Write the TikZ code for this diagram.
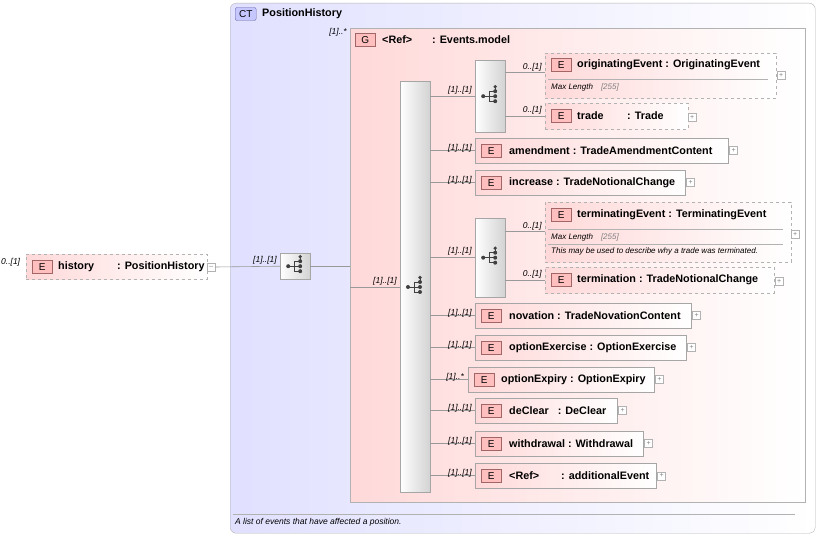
\documentclass[tikz,border=0pt]{standalone}
\usepackage{fontspec}
\setmainfont{Liberation Sans}
\begin{document}
\begin{tikzpicture}[x=1pt,y=-1pt,
 el/.style={draw=gray!70,left color=red!15,right color=white,minimum height=25pt,inner sep=0pt},
 eld/.style={el,dashed,draw=gray!60},
 badge/.style={draw=red!40!black!60,fill=red!25,minimum width=20pt,minimum height=13pt,inner sep=0pt,font=\fontsize{10}{10}\selectfont},
 nm/.style={anchor=west,inner sep=0pt,font=\bfseries\fontsize{10.8}{12}\selectfont},
 mul/.style={inner sep=0pt,font=\itshape\fontsize{8.5}{9}\selectfont},
 sml/.style={anchor=west,inner sep=0pt,font=\itshape\fontsize{8}{9}\selectfont},
 plus/.style={draw=gray!60,fill=white,minimum size=8pt,inner sep=0pt,font=\fontsize{7}{7}\selectfont,text=gray},
 seq/.style={draw=gray!70,left color=white,right color=gray!35,inner sep=0pt,anchor=north west},
 ln/.style={draw=gray!80,line width=0.6pt}]
\useasboundingbox (0,0) rectangle (820,537);
\tikzset{icon/.pic={
  \fill[black!75] (-7,0) circle (2);
  \draw[black!75,line width=0.9pt] (-7,0)--(-1,0) (-1,-5)--(-1,5) (-1,-5)--(5,-5) (-1,0)--(5,0) (-1,5)--(5,5);
  \fill[black!75] (5,-5) circle (2) (5,0) circle (2) (5,5) circle (2) (5,-9.5) circle (1.8);
  \draw[black!75,line width=0.9pt] (5,-9.5)--(5,-5);}}
% CT box
\node[draw=gray!60,rounded corners=6pt,left color=blue!12,right color=white,minimum width=585pt,minimum height=530pt,anchor=north west,inner sep=0pt] (ct) at (230,3) {};
\node[draw=blue!40!black!60,fill=blue!22,rounded corners=2pt,minimum width=21pt,minimum height=13pt,inner sep=0pt,font=\fontsize{10}{10}\selectfont,anchor=west] (ctb) at (235,14) {CT};
\node[nm] (ctt) at (262,14) {PositionHistory};
\draw[gray!60] (233,514) -- (795,514);
\node[sml,font=\itshape\fontsize{8.5}{9}\selectfont] (ctd) at (235,522) {A list of events that have affected a position.};
% G box
\node[draw=gray!60,left color=red!15,right color=white,minimum width=455pt,minimum height=474pt,anchor=north west,inner sep=0pt] (g) at (350,28) {};
\node[mul,anchor=east] at (347,32) {[1]..*};
\node[badge,anchor=west] (gb) at (355,40) {G};
\node[nm] at (382,40) {<Ref>};
\node[nm] at (432,40) {: Events.model};
% history
\node[eld,minimum width=181pt,anchor=north west] (hist) at (26,254) {};
\node[mul,anchor=west] at (1,262) {0..[1]};
\node[badge,anchor=west] at (32,267) {E};
\node[nm] at (58,267) {history};
\node[nm] at (117,267) {: PositionHistory};
\node[plus,anchor=west] (hm) at (207,267) {--};
\node[seq,minimum width=30pt,minimum height=26pt] (s1) at (280,253) {};
\pic at (s1.center) {icon};
\draw[ln] (hm.east) -- (s1.west);
\node[mul,anchor=south east] at (277,264) {[1]..[1]};
\draw[ln] (s1.east) -- (s1.east -| g.west);
\node[seq,minimum width=30pt,minimum height=411pt] (s2) at (400,81) {};
\pic at (415,287) {icon};
\coordinate (gin) at (350,287);
\draw[ln] (gin) -- (s2.west |- gin);
\node[mul,anchor=south east] at (397,285) {[1]..[1]};
% choice 1
\node[seq,minimum width=30pt,minimum height=72pt] (c1) at (475,60) {};
\pic at (c1.center) {icon};
\draw[ln] (s2.east |- c1.west) -- (c1.west);
\node[mul,anchor=south east] at (472,94) {[1]..[1]};
\node[eld,minimum width=231pt,minimum height=45pt,anchor=north west] (orig) at (545,53) {};
\node[badge,anchor=west] at (551,65) {E};
\node[nm] at (577,65) {originatingEvent : OriginatingEvent};
\draw[gray!60] (548,79) -- (768,79);
\node[sml] at (551,87) {Max Length\quad\textcolor{gray}{[255]}};
\node[plus,anchor=west] (op) at (777,75) {+};
\coordinate (o1) at (505,72);
\draw[ln] (o1) -- (o1 -| orig.west);
\node[mul,anchor=south east] at (542,71) {0..[1]};
\node[eld,minimum width=143pt,minimum height=26pt,anchor=north west] (trade) at (545,103) {};
\node[badge,anchor=west] at (551,116) {E};
\node[nm] at (577,116) {trade};
\node[nm] at (627,116) {: Trade};
\node[plus,anchor=west] at (688,117) {+};
\draw[ln] (c1.east |- trade.west) -- (trade.west);
\node[mul,anchor=south east] at (542,114) {0..[1]};
% simple elements
\foreach \n/\y/\w/\t/\m in {amend/138/253/amendment : TradeAmendmentContent/[1]..[1],
 incr/170/210/increase : TradeNotionalChange/[1]..[1],
 nov/303/216/novation : TradeNovationContent/[1]..[1],
 opex/335/211/optionExercise : OptionExercise/[1]..[1],
 decl/398/142/deClear \ \ : DeClear/[1]..[1],
 wd/431/168/withdrawal : Withdrawal/[1]..[1]}{
 \node[el,minimum width=\w pt,anchor=north west] (\n) at (475,\y) {};
 \node[badge,anchor=west] at ([xshift=6pt]\n.west) {E};
 \node[nm] at ([xshift=34pt]\n.west) {\t};
 \node[plus,anchor=west] at ([xshift=1pt]\n.east) {+};
 \draw[ln] (s2.east |- \n.west) -- (\n.west);
 \node[mul,anchor=south east] at ([xshift=-3pt,yshift=-2pt]\n.west) {\m};
}
\node[el,minimum width=186pt,anchor=north west] (oexp) at (468,367) {};
\node[badge,anchor=west] at ([xshift=6pt]oexp.west) {E};
\node[nm] at ([xshift=33pt]oexp.west) {optionExpiry : OptionExpiry};
\node[plus,anchor=west] at ([xshift=1pt]oexp.east) {+};
\draw[ln] (s2.east |- oexp.west) -- (oexp.west);
\node[mul,anchor=south east] at ([xshift=-4pt,yshift=-2pt]oexp.west) {[1]..*};
\node[el,minimum width=181pt,anchor=north west] (addl) at (475,463) {};
\node[badge,anchor=west] at ([xshift=6pt]addl.west) {E};
\node[nm] at ([xshift=34pt]addl.west) {<Ref>};
\node[nm] at ([xshift=86pt]addl.west) {: additionalEvent};
\node[plus,anchor=west] at ([xshift=1pt]addl.east) {+};
\draw[ln] (s2.east |- addl.west) -- (addl.west);
\node[mul,anchor=south east] at ([xshift=-3pt,yshift=-2pt]addl.west) {[1]..[1]};
% choice 2
\node[seq,minimum width=30pt,minimum height=79pt] (c2) at (475,218) {};
\pic at (c2.center) {icon};
\draw[ln] (s2.east |- c2.west) -- (c2.west);
\node[mul,anchor=south east] at (472,255) {[1]..[1]};
\node[eld,minimum width=246pt,minimum height=60pt,anchor=north west] (term) at (545,202) {};
\node[badge,anchor=west] at (551,215) {E};
\node[nm] at (577,215) {terminatingEvent : TerminatingEvent};
\draw[gray!60] (548,229) -- (783,229);
\node[sml] at (551,237) {Max Length\quad\textcolor{gray}{[255]}};
\draw[gray!60] (548,244) -- (783,244);
\node[sml] at (551,251) {This may be used to describe why a trade was terminated.};
\node[plus,anchor=west] at (791,234) {+};
\coordinate (t1) at (505,231);
\draw[ln] (t1) -- (t1 -| term.west);
\node[mul,anchor=south east] at (542,230) {0..[1]};
\node[eld,minimum width=229pt,minimum height=26pt,anchor=north west] (termn) at (545,267) {};
\node[badge,anchor=west] at (551,280) {E};
\node[nm] at (577,280) {termination : TradeNotionalChange};
\node[plus,anchor=west] at (775,281) {+};
\draw[ln] (c2.east |- termn.west) -- (termn.west);
\node[mul,anchor=south east] at (542,278) {0..[1]};
\end{tikzpicture}
\end{document}
